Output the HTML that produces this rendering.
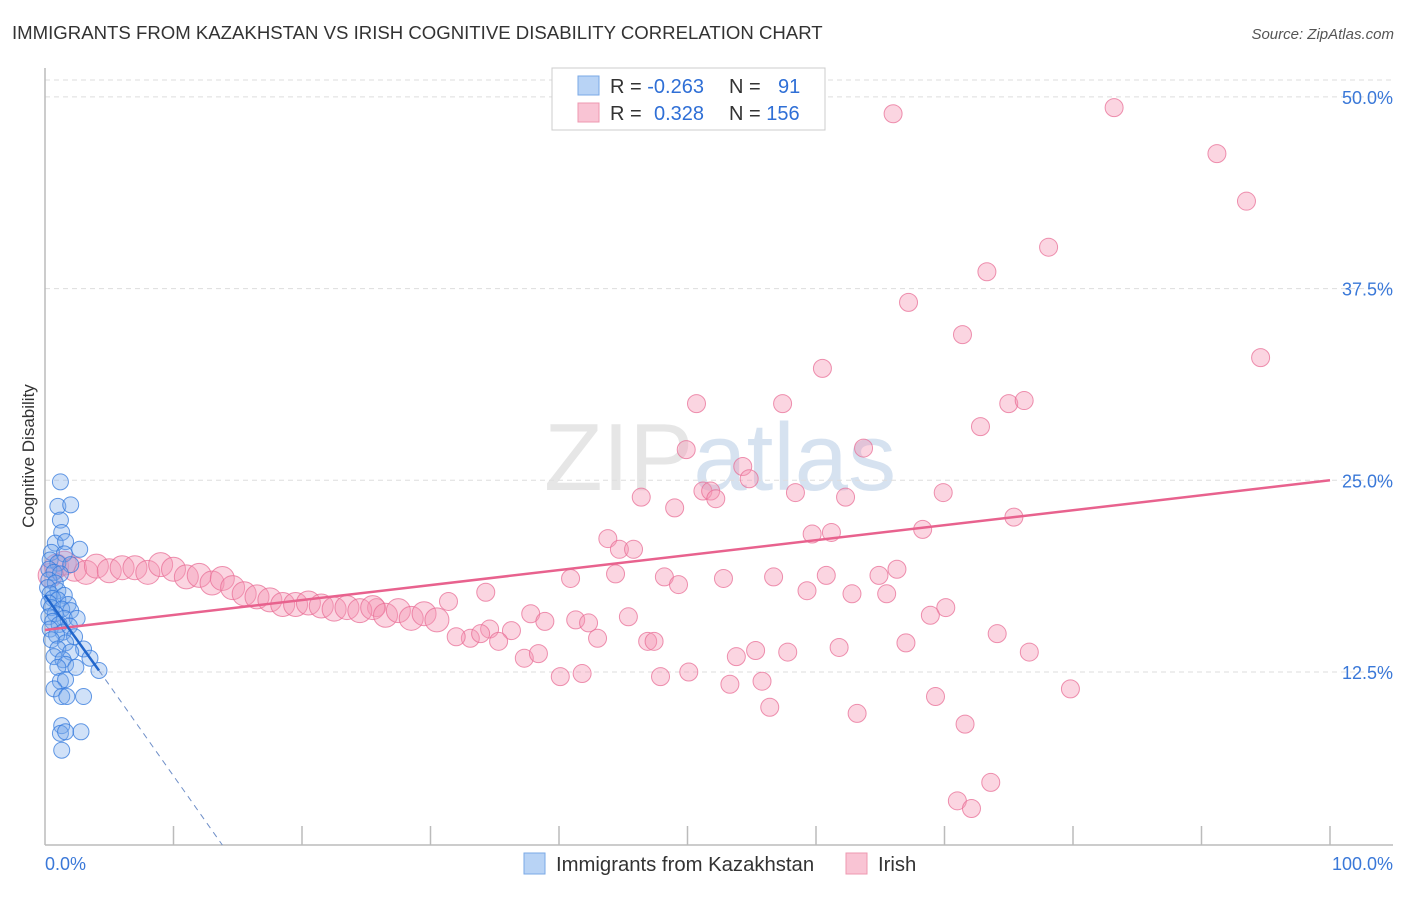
<!DOCTYPE html>
<html><head><meta charset="utf-8"><style>
body{margin:0;background:#fff;font-family:"Liberation Sans",sans-serif;}
svg text{font-family:"Liberation Sans",sans-serif;}
</style></head><body>
<svg id="chart" width="1406" height="892" xmlns="http://www.w3.org/2000/svg">
<text x="12" y="39" font-size="18.6" fill="#333">IMMIGRANTS FROM KAZAKHSTAN VS IRISH COGNITIVE DISABILITY CORRELATION CHART</text>
<text x="1394" y="39" font-size="15" fill="#555" font-style="italic" text-anchor="end">Source: ZipAtlas.com</text>
<text x="720" y="490" font-size="96" fill="#e6e6e6" text-anchor="middle" font-family="Liberation Serif">ZIP<tspan fill="#d6e2f0" font-family="Liberation Sans">atlas</tspan></text>
<text transform="translate(34,456) rotate(-90)" font-size="17" fill="#333" text-anchor="middle">Cognitive Disability</text>
<g id="grid"></g><g id="axes"></g><g id="pink"></g><g id="blue"></g><g id="lines"></g>
<g>
<rect x="552" y="68" width="273" height="62" fill="#fff" stroke="#ccc"/>
<rect x="578" y="76" width="21" height="19" fill="#b8d3f5" stroke="#7aa8e6"/>
<rect x="578" y="103" width="21" height="19" fill="#f9c4d4" stroke="#ee98b0"/>
<text x="610" y="93" font-size="20" fill="#333">R = <tspan fill="#2f6fd6">-0.263</tspan></text>
<text x="729" y="93" font-size="20" fill="#333">N = <tspan fill="#2f6fd6" x="778">91</tspan></text>
<text x="610" y="120" font-size="20" fill="#333">R = <tspan fill="#2f6fd6" x="654">0.328</tspan></text>
<text x="729" y="120" font-size="20" fill="#333">N = <tspan fill="#2f6fd6">156</tspan></text>
</g>
<g>
<rect x="524" y="853" width="21" height="21" fill="#b8d3f5" stroke="#7aa8e6"/>
<text x="556" y="871" font-size="20.3" fill="#333">Immigrants from Kazakhstan</text>
<rect x="846" y="853" width="21" height="21" fill="#f9c4d4" stroke="#ee98b0"/>
<text x="878" y="871" font-size="20.3" fill="#333">Irish</text>
</g>
</svg>
<script>
const yTicks=[12.5,25,37.5,50];
const yTickLabels=["12.5%","25.0%","37.5%","50.0%"];
const xTickLabels=["0.0%","100.0%"];
const blueX=[1.2,1.0,2.0,1.2,1.3,0.8,1.6,2.7,0.5,1.5,0.4,1.0,2.0,0.3,0.7,1.2,0.3,0.8,0.2,1.0,0.4,1.5,0.6,1.0,0.3,1.8,0.5,1.3,2.0,0.8,0.3,1.5,2.5,0.6,1.1,1.9,0.4,1.4,0.9,2.3,0.5,1.6,3.0,1.0,2.0,0.7,1.4,3.5,1.6,1.0,2.4,4.2,1.2,1.6,0.7,1.3,1.7,3.0,1.3,1.2,1.6,2.8,1.3];
const blueY=[24.9,23.3,23.4,22.4,21.6,20.9,21.0,20.5,20.3,20.2,19.8,19.6,19.5,19.2,19.0,18.9,18.5,18.3,18.0,17.8,17.6,17.5,17.3,17.2,17.0,16.9,16.7,16.6,16.5,16.3,16.1,16.0,16.0,15.8,15.6,15.5,15.3,15.1,14.9,14.8,14.6,14.4,14.0,14.0,13.8,13.5,13.3,13.4,13.0,12.8,12.8,12.6,11.9,12.0,11.4,10.9,10.9,10.9,9.0,8.5,8.6,8.6,7.4];
const pinkX=[66.0,83.2,91.2,93.5,78.1,73.3,67.2,71.4,94.6,60.5,50.7,57.4,75.0,76.2,72.8,49.9,63.7,54.3,54.8,46.4,51.2,51.8,52.2,58.4,62.3,69.9,49.0,75.4,68.3,59.7,61.2,43.8,44.7,45.8,40.9,44.4,48.2,49.3,52.8,56.7,60.8,64.9,66.3,59.3,62.8,65.5,34.3,31.4,25.8,37.8,38.9,41.3,42.3,45.4,70.1,68.9,74.1,76.6,67.0,46.9,47.4,43.0,36.3,34.6,33.1,32.0,35.3,33.9,37.3,38.4,40.1,41.8,47.9,50.1,53.8,55.3,57.8,61.8,53.3,55.8,56.4,63.2,69.3,71.6,79.8,73.6,71.0,72.1,
0.4,0.9,1.5,2.3,3.2,4.0,5.0,6.0,7.0,8.0,9.0,10.0,11.0,12.0,13.0,13.8,14.6,15.5,16.5,17.5,18.5,19.5,20.5,21.5,22.5,23.5,24.5,25.5,26.5,27.5,28.5,29.5,30.5];
const pinkY=[48.9,49.3,46.3,43.2,40.2,38.6,36.6,34.5,33.0,32.3,30.0,30.0,30.0,30.2,28.5,27.0,27.1,25.9,25.1,23.9,24.3,24.3,23.8,24.2,23.9,24.2,23.2,22.6,21.8,21.5,21.6,21.2,20.5,20.5,18.6,18.9,18.7,18.2,18.6,18.7,18.8,18.8,19.2,17.8,17.6,17.6,17.7,17.1,16.7,16.3,15.8,15.9,15.7,16.1,16.7,16.2,15.0,13.8,14.4,14.5,14.5,14.7,15.2,15.3,14.7,14.8,14.5,15.0,13.4,13.7,12.2,12.4,12.2,12.5,13.5,13.9,13.8,14.1,11.7,11.9,10.2,9.8,10.9,9.1,11.4,5.3,4.1,3.6,
18.8,19.4,19.6,19.2,19.0,19.4,19.1,19.3,19.3,19.0,19.5,19.2,18.7,18.8,18.3,18.6,18.0,17.6,17.4,17.2,16.9,16.9,17.0,16.8,16.6,16.7,16.5,16.7,16.2,16.5,16.0,16.3,15.9];
const blueTrend=[[0,17.5],[4.2,12.6]];
const blueDash=[[4.2,12.6],[13.8,1.22]];
const pinkTrend=[[0,15.24],[100,25.0]];
const NS="http://www.w3.org/2000/svg";
const X=v=>45+v*12.85;
const Y=v=>863.7-v*15.336;
function mk(tag,attrs,parent){const e=document.createElementNS(NS,tag);for(const k in attrs)e.setAttribute(k,attrs[k]);document.getElementById(parent).appendChild(e);return e;}
yTicks.forEach((t,i)=>{
 const g=mk('line',{x1:45,x2:1393,y1:Y(t),y2:Y(t),stroke:'#ddd','stroke-dasharray':'5,4'},'grid');
 
 
 const tx=mk('text',{x:1393,y:Y(t)+7,'font-size':18,fill:'#3a78d8','text-anchor':'end'},'grid');
 tx.textContent=yTickLabels[i];
 
 
});
const tl=mk('line',{x1:45,x2:1393,y1:80,y2:80,stroke:'#ddd','stroke-dasharray':'5,4'},'grid');


const ya=mk('line',{x1:45,x2:45,y1:68,y2:845,stroke:'#bbb','stroke-width':1.5},'axes');


const xa=mk('line',{x1:45,x2:1393,y1:845,y2:845,stroke:'#bbb','stroke-width':1.5},'axes');


for(let i=1;i<=10;i++){const t=mk('line',{x1:X(i*10),x2:X(i*10),y1:826,y2:845,stroke:'#bbb','stroke-width':1.5},'axes');
 
 }
[0,100].forEach((v,i)=>{const t=mk('text',{x:i?1393:45,y:870,'font-size':18,fill:'#3a78d8','text-anchor':i?'end':'start'},'axes');t.textContent=xTickLabels[i];
 
 });
pinkX.forEach((x,i)=>{const big=i>=88;const c=mk('circle',{cx:X(x),cy:Y(pinkY[i]),r:big?12:9,fill:'rgba(244,150,180,0.4)',stroke:'rgba(232,110,150,0.75)','stroke-width':1},'pink');
 
 });
blueX.forEach((x,i)=>{const c=mk('circle',{cx:X(x),cy:Y(blueY[i]),r:8,fill:'rgba(120,170,235,0.35)',stroke:'rgba(50,120,220,0.75)','stroke-width':1},'blue');
 
 });
const pl=mk('line',{x1:X(pinkTrend[0][0]),y1:Y(pinkTrend[0][1]),x2:X(pinkTrend[1][0]),y2:Y(pinkTrend[1][1]),stroke:'#e8628e','stroke-width':2.5},'lines');


const bl=mk('line',{x1:X(blueTrend[0][0]),y1:Y(blueTrend[0][1]),x2:X(blueTrend[1][0]),y2:Y(blueTrend[1][1]),stroke:'#2166cc','stroke-width':2.5},'lines');


const bd=mk('line',{x1:X(blueDash[0][0]),y1:Y(blueDash[0][1]),x2:X(blueDash[1][0]),y2:Y(blueDash[1][1]),stroke:'#6f8fc8','stroke-width':1,'stroke-dasharray':'6,5'},'lines');


</script>
</body></html>
